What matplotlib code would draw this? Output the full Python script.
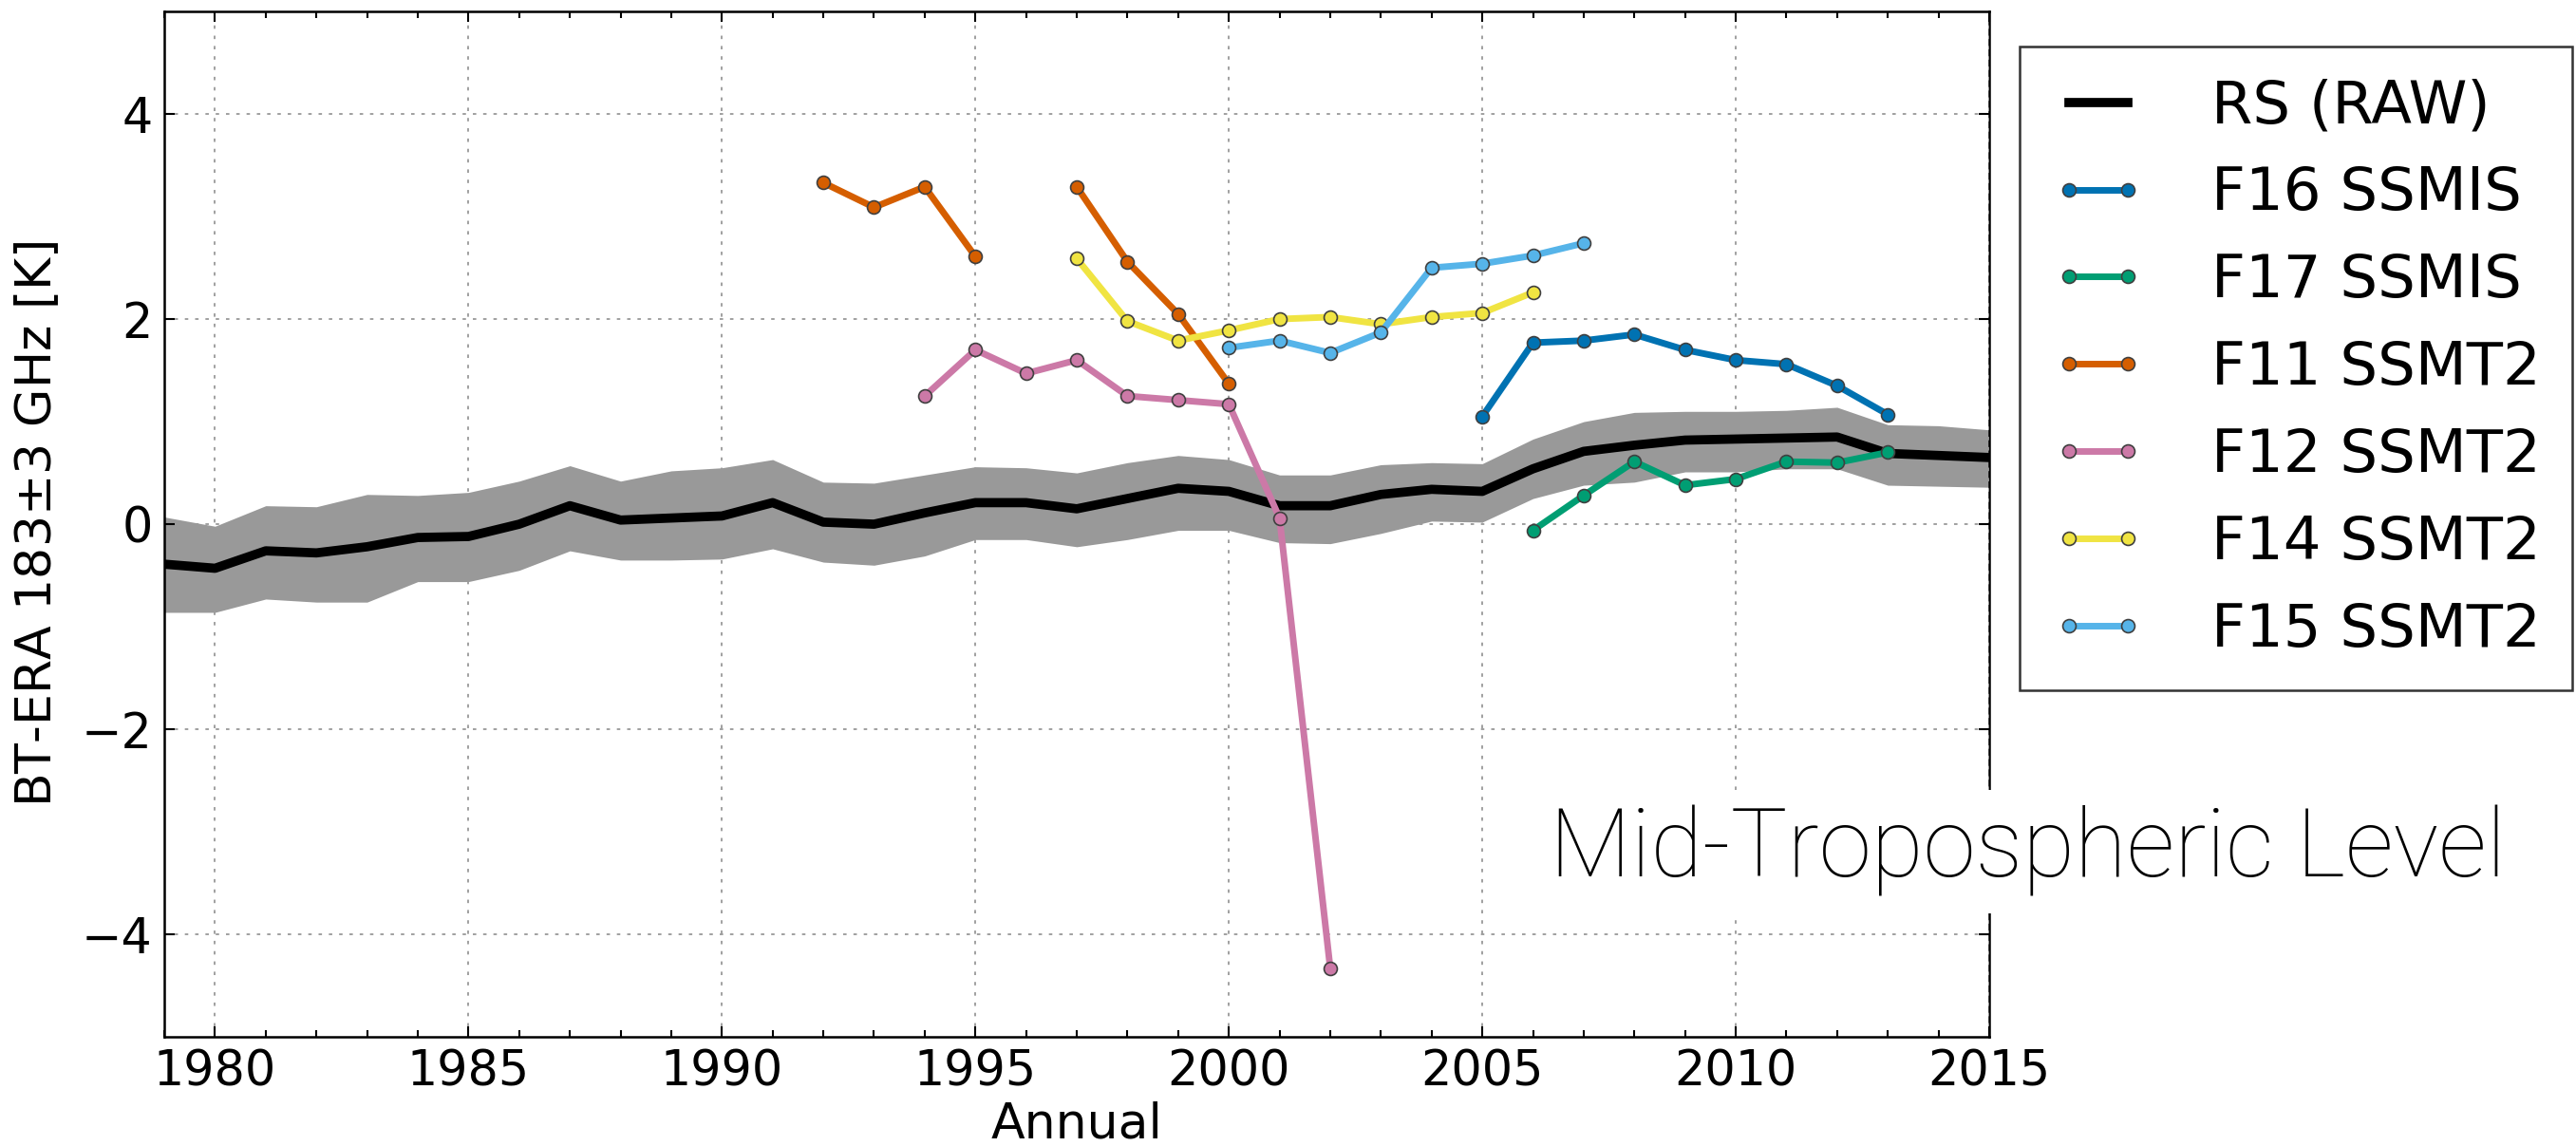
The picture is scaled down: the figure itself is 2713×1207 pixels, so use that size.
#!/usr/bin/env python3
# -*- coding: utf-8 -*-
"""

Annual BT-ERA differences, mid-tropospheric 183+-3 GHz channel.

"""

# Import packages
import matplotlib
matplotlib.use('Agg')
import matplotlib.pyplot as plt
import numpy as np

nan = np.nan

# Radiosonde (RAW) mean and spread
rs_years = list(range(1979, 2016))
rs_mean = [-0.39, -0.43, -0.26, -0.28, -0.22, -0.13, -0.12, 0.00, 0.18, 0.04,
           0.06, 0.08, 0.21, 0.02, 0.00, 0.11, 0.21, 0.21, 0.15, 0.25,
           0.35, 0.32, 0.18, 0.18, 0.29, 0.34, 0.32, 0.54, 0.71, 0.77,
           0.82, 0.83, 0.84, 0.85, 0.69, 0.67, 0.65]
rs_upper = [0.07, -0.02, 0.18, 0.17, 0.29, 0.28, 0.31, 0.42, 0.57, 0.42,
            0.52, 0.55, 0.63, 0.41, 0.40, 0.48, 0.56, 0.55, 0.50, 0.60,
            0.67, 0.63, 0.48, 0.48, 0.58, 0.60, 0.59, 0.83, 1.00, 1.09,
            1.10, 1.10, 1.11, 1.14, 0.97, 0.96, 0.92]
rs_lower = [-0.86, -0.86, -0.73, -0.76, -0.76, -0.56, -0.56, -0.45, -0.26, -0.35,
            -0.35, -0.34, -0.24, -0.37, -0.40, -0.31, -0.15, -0.15, -0.22, -0.15,
            -0.06, -0.06, -0.18, -0.19, -0.09, 0.03, 0.02, 0.25, 0.38, 0.41,
            0.51, 0.51, 0.54, 0.54, 0.38, 0.37, 0.36]

# Satellites
f16_years = list(range(2005, 2014))
f16_vals = [1.05, 1.77, 1.79, 1.85, 1.70, 1.60, 1.56, 1.35, 1.07]

f17_years = list(range(2006, 2014))
f17_vals = [-0.06, 0.28, 0.61, 0.38, 0.44, 0.61, 0.60, 0.70]

f11_years = list(range(1992, 2001))
f11_vals = [3.33, 3.09, 3.29, 2.61, nan, 3.29, 2.56, 2.05, 1.37]

f12_years = list(range(1994, 2003))
f12_vals = [1.25, 1.70, 1.47, 1.60, 1.25, 1.21, 1.17, 0.06, -4.33]

f14_years = list(range(1997, 2007))
f14_vals = [2.59, 1.98, 1.79, 1.89, 2.00, 2.02, 1.95, 2.02, 2.06, 2.26]

f15_years = list(range(2000, 2008))
f15_vals = [1.72, 1.79, 1.67, 1.87, 2.50, 2.54, 2.62, 2.74]

labels = ['F16 SSMIS', 'F17 SSMIS', 'F11 SSMT2', 'F12 SSMT2', 'F14 SSMT2', 'F15 SSMT2']

# Define colour map (colorblind palette)
c1 = '#0072B2'
c2 = '#009E73'
c3 = '#D55E00'
c4 = '#CC79A7'
c5 = '#F0E442'
c6 = '#56B4E9'

#%%

# Plot
fig = plt.figure(figsize=(27.13, 12.07), dpi=100)
ax1 = fig.add_axes([0.0638, 0.0952, 0.7084, 0.8948])

ax1.fill_between(rs_years, rs_lower, rs_upper, color='#999999', lw=0, zorder=1)
ax1.plot(rs_years, rs_mean, color='k', lw=7, label='RS (RAW)', zorder=3)

series = [(f16_years, f16_vals, c1), (f17_years, f17_vals, c2),
          (f11_years, f11_vals, c3), (f12_years, f12_vals, c4),
          (f14_years, f14_vals, c5), (f15_years, f15_vals, c6)]
for (yrs, vals, c), lab in zip(series, labels):
    ax1.plot(yrs, vals, color=c, lw=5, marker='o', ms=10, mfc=c,
             mec='0.25', mew=1.2, label=lab, zorder=4)

ax1.set_xlim(1979, 2015)
ax1.set_ylim(-5, 5)
ax1.set_xticks(np.arange(1980, 2016, 5))
ax1.set_xticks(np.arange(1979, 2016, 1), minor=True)
ax1.set_yticks([-4, -2, 0, 2, 4])
ax1.set_yticklabels(['\u22124', '\u22122', '0', '2', '4'])

ax1.tick_params(axis='both', which='both', direction='in', top=True, right=True,
                labelsize=36.5, pad=9, width=1.5)
ax1.tick_params(axis='both', which='major', length=8)
ax1.tick_params(axis='both', which='minor', length=5)
ax1.grid(True, which='major', color='0.6', linestyle=(0, (2, 4)), linewidth=1.3, zorder=2)
ax1.set_axisbelow(False)
for s in ax1.spines.values():
    s.set_linewidth(1.8)

ax1.set_xlabel('Annual', fontsize=37.5)
ax1.set_ylabel(r'BT-ERA 183$\pm$3 GHz [K]', fontsize=37.5)
ax1.xaxis.set_label_coords(0.5, -0.062)
ax1.yaxis.set_label_coords(-0.056, 0.5)

leg = fig.legend(loc='upper left', bbox_to_anchor=(0.784, 0.959), fontsize=45,
                 frameon=True, fancybox=False, framealpha=1, edgecolor='0.2',
                 handlelength=1.6, handletextpad=1.1, labelspacing=0.51,
                 borderpad=0.53, borderaxespad=0, numpoints=2)
leg.get_frame().set_linewidth(1.8)

fig.text(0.787, 1 - 924 / 1207, 'Mid-Tropospheric Level', fontsize=72,
         family=['Roboto', 'DejaVu Sans'], weight='light', ha='center', va='baseline',
         bbox=dict(facecolor='white', edgecolor='none', pad=12), zorder=10)

plt.savefig('out.png', dpi=100)
